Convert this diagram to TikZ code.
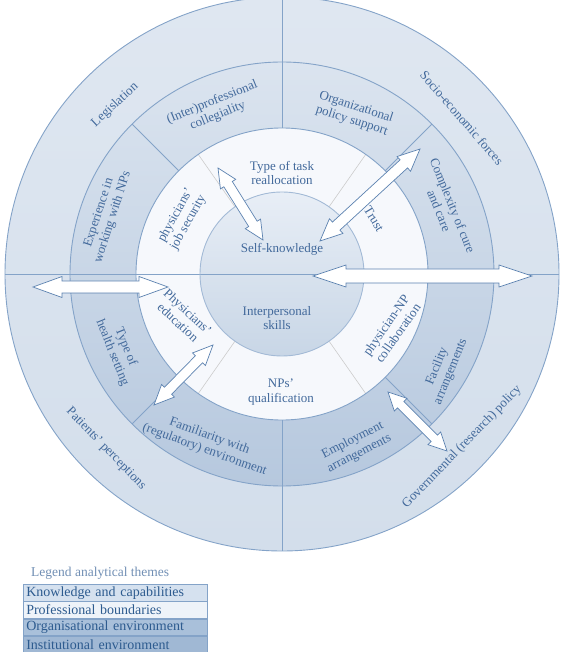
\documentclass[tikz,border=0pt]{standalone}
\usepackage{fontspec}
\setmainfont{Liberation Serif}
\usepackage{tikz}
\usetikzlibrary{calc,positioning}
\definecolor{inkblue}{HTML}{42699B}
\definecolor{legink}{HTML}{2D5B8F}
\definecolor{rimblue}{HTML}{84A3C8}
\definecolor{arrowedge}{HTML}{5C82B0}
\definecolor{instTop}{HTML}{DFE7F1}
\definecolor{instBot}{HTML}{D3DEEB}
\definecolor{orgTop}{HTML}{DBE4EF}
\definecolor{orgBot}{HTML}{B6C8DE}
\definecolor{profFill}{HTML}{F6F8FC}
\definecolor{knowTop}{HTML}{E8EEF6}
\definecolor{knowBot}{HTML}{C8D6E6}
\definecolor{legknow}{HTML}{D5E1EF}
\definecolor{legprof}{HTML}{EEF3F9}
\definecolor{legorg}{HTML}{A9C0DA}
\definecolor{leginst}{HTML}{A0B8D4}
\tikzset{
  ringtxt/.style={text=inkblue, align=center, inner sep=1pt,
                  font=\fontsize{13}{14.5}\selectfont},
  rim/.style={draw=rimblue, line width=0.9pt},          % ring outline
  splitline/.style={draw=rimblue, line width=0.9pt},    % theme border
  softline/.style={draw=black!20, line width=0.6pt},    % border inside white ring
  fatarrow/.style={draw=arrowedge, fill=white, line width=0.7pt},
  legrow/.style={draw=rimblue, line width=0.6pt, text width=178pt, align=left,
                 minimum height=16.75pt, inner xsep=3pt, inner ysep=0pt,
                 anchor=north west, text=legink, font=\fontsize{14}{15}\selectfont},
}

\begin{document}
\begin{tikzpicture}[x=1pt, y=1pt]
  \useasboundingbox (-282,-378) rectangle (281,274);
  % ---------------- rings ----------------
  \shade[top color=instTop, bottom color=instBot] (0,0) circle (277);
  \shade[top color=orgTop, bottom color=orgBot] (0,0) circle (212);
  \fill[profFill] (0,0) circle (146);
  \shade[top color=knowTop, bottom color=knowBot] (0,0) circle (82);
  % ---------------- borders ----------------
  \draw[splitline] (-277,0) -- (277,0);
  \foreach \a in {90,270}
    \draw[splitline] (\a:146) -- (\a:277);
  \foreach \a in {45,135,225,315}
    \draw[splitline] (\a:146) -- (\a:212);
  \foreach \a in {55,125,235,305}
    \draw[softline] (\a:82) -- (\a:146);
  \draw[rim] (0,0) circle (277);
  \draw[rim] (0,0) circle (212);
  \draw[rim] (0,0) circle (146);
  \draw[rim, draw=rimblue!75] (0,0) circle (82);
  % ---------------- institutional environment ----------------
  \node[ringtxt, rotate=43]  (legis)   at (-167,169)  {Legislation};
  \node[ringtxt, rotate=-49] (socio)   at (180,156)   {Socio-economic forces};
  \node[ringtxt, rotate=-46] (patient) at (-176,-175) {Patients' perceptions};
  \node[ringtxt, rotate=46]  (govpol)  at (180,-173)  {Governmental (research) policy};
  % ---------------- organisational environment ----------------
  \node[ringtxt, rotate=22]  (colleg)  at (-67,165)   {(Inter)professional\\collegiality};
  \node[ringtxt, rotate=-18] (orgpol)  at (72,160)    {Organizational\\policy support};
  \node[ringtxt, rotate=72]  (expnp)   at (-176,59)   {Experience in\\working with NPs};
  \node[ringtxt, rotate=-68] (complex) at (164,66)    {Complexity of cure\\and care};
  \node[ringtxt, rotate=-68] (health)  at (-163,-76)  {Type of\\health setting};
  \node[ringtxt, rotate=-20] (familiar) at (-75,-169) {Familiarity with\\(regulatory) environment};
  \node[ringtxt, rotate=27]  (employ)  at (74,-173)   {Employment\\arrangements};
  \node[ringtxt, rotate=68]  (facility) at (162,-95)  {Facility\\arrangements};
  % ---------------- professional boundaries ----------------
  \node[ringtxt]             (task)    at (0,101)     {Type of task\\reallocation};
  \node[ringtxt, rotate=61]  (jobsec)  at (-100,55)   {physicians'\\job security};
  \node[ringtxt, rotate=-59] (trust)   at (92,55)     {Trust};
  \node[ringtxt, rotate=-43] (physedu) at (-99,-43)   {Physicians'\\education};
  \node[ringtxt, rotate=55]  (collab)  at (110,-55)   {physician-NP\\collaboration};
  \node[ringtxt]             (npqual)  at (-1,-118)   {NPs'\\qualification};
  % ---------------- knowledge and capabilities ----------------
  \node[ringtxt]             (selfk)   at (0,25)      {Self-knowledge};
  \node[ringtxt]             (interp)  at (-5,-44)    {Interpersonal\\skills};
  % ---------------- arrows ----------------
  \coordinate (taskEnd)  at (-64,106);
  \coordinate (selfEnd)  at (-19,34);
  \coordinate (trustIn)  at (38,33);
  \coordinate (trustOut) at (138,125);
  \coordinate (coreEnd)  at (31,-2);
  \coordinate (rimEnd)   at (250,-2);
  \coordinate (leftOut)  at (-249,-13);
  \coordinate (leftIn)   at (-114,-13);
  \coordinate (eduEnd)   at (-69,-71);
  \coordinate (famEnd)   at (-128,-131);
  \coordinate (empEnd)   at (106,-118);
  \coordinate (govEnd)   at (165,-177);
  \foreach \u/\v/\hl/\hw/\sw in {taskEnd/selfEnd/19pt/9pt/5pt,
                                 trustIn/trustOut/22pt/10pt/5.5pt,
                                 coreEnd/rimEnd/33pt/11pt/7pt,
                                 leftOut/leftIn/29pt/10.5pt/6pt,
                                 eduEnd/famEnd/20pt/9pt/5pt,
                                 empEnd/govEnd/18pt/9pt/4.5pt}{
    \coordinate (h1) at ($(\u)!\hl!(\v)$);
    \coordinate (h2) at ($(\v)!\hl!(\u)$);
    \draw[fatarrow] (\u) -- ($(h1)!\hw!90:(\v)$) -- ($(h1)!\sw!90:(\v)$)
      -- ($(h2)!\sw!-90:(\u)$) -- ($(h2)!\hw!-90:(\u)$) -- (\v)
      -- ($(h2)!\hw!90:(\u)$) -- ($(h2)!\sw!90:(\u)$)
      -- ($(h1)!\sw!-90:(\v)$) -- ($(h1)!\hw!-90:(\v)$) -- cycle;
  }
  % ---------------- legend ----------------
  \node[anchor=west, text=inkblue!75, font=\fontsize{13.5}{15}\selectfont, inner sep=0pt]
    (legtitle) at (-251,-299) {Legend analytical themes};
  \node[legrow, fill=legknow] (leg1) at (-259,-310) {Knowledge and capabilities};
  \node[legrow, fill=legprof, below=0pt of leg1] (leg2) {Professional boundaries};
  \node[legrow, fill=legorg,  below=0pt of leg2] (leg3) {Organisational environment};
  \node[legrow, fill=leginst, below=0pt of leg3] (leg4) {Institutional environment};
\end{tikzpicture}
\end{document}
